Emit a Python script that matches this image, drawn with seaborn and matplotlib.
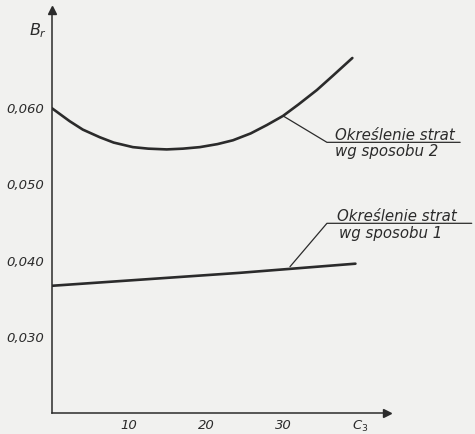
import numpy as np
import pandas as pd
import matplotlib
matplotlib.use("Agg")
import matplotlib.pyplot as plt
import seaborn as sns

# values (C3 on x, B_r on y)
c_sposob2 = [0, 2.3, 4.0, 6.2, 8.0, 10.5, 12.5, 14.9, 17.0, 19.2, 21.5,
             23.5, 25.8, 27.9, 30.0, 32.0, 34.4, 36.5, 39.0]
b_sposob2 = [0.0600, 0.0583, 0.0572, 0.0562, 0.0555, 0.0549, 0.0547, 0.0546, 0.0547, 0.0549, 0.0553,
             0.0558, 0.0567, 0.0578, 0.0590, 0.0605, 0.0624, 0.0643, 0.0666]

c_sposob1 = [0, 24.4, 39.4]
b_sposob1 = [0.0367, 0.0384, 0.0396]

x_ticks = [10, 20, 30, 40]
x_tick_labels = ["10", "20", "30", "$C_3$"]
y_ticks = [0.030, 0.040, 0.050, 0.060]
y_tick_labels = ["0,030", "0,040", "0,050", "0,060"]

df2 = pd.DataFrame({"c": c_sposob2, "b": b_sposob2})
df1 = pd.DataFrame({"c": c_sposob1, "b": b_sposob1})

sns.set_style("white")
plt.rcParams["font.family"] = ["DejaVu Sans"]
plt.rcParams["mathtext.fontset"] = "dejavusans"

paper = "#f1f1ef"
ink = "#2b2b2b"

fig = plt.figure(figsize=(4.75, 4.34), dpi=100, facecolor=paper)
ax = fig.add_axes([52 / 475, 21 / 434, (387 - 52) / 475, (413 - 10) / 434])
ax.set_facecolor(paper)

sns.lineplot(data=df2, x="c", y="b", ax=ax, color=ink, linewidth=1.9, sort=False)
sns.lineplot(data=df1, x="c", y="b", ax=ax, color=ink, linewidth=1.9, sort=False)

ax.set_xlim(0, 43.5)
ax.set_ylim(0.020, 0.0729)

for side in ["top", "right"]:
    ax.spines[side].set_visible(False)
for side in ["left", "bottom"]:
    ax.spines[side].set_color(ink)
    ax.spines[side].set_linewidth(1.1)

# arrow heads on the axes
ax.plot(1, 0, ">", color=ink, markersize=6, transform=ax.transAxes, clip_on=False)
ax.plot(0, 1, "^", color=ink, markersize=6, transform=ax.transAxes, clip_on=False)

ax.set_xticks(x_ticks)
ax.set_xticklabels(x_tick_labels, fontsize=9.5, fontstyle="italic", color=ink)
ax.set_yticks(y_ticks)
ax.set_yticklabels(y_tick_labels, fontsize=9.5, fontstyle="italic", color=ink)
ax.tick_params(axis="x", direction="in", length=4, width=1, colors=ink, pad=4)
ax.tick_params(axis="y", direction="out", length=5, width=1, colors=ink, pad=1)
ax.set_xlabel("")
ax.set_ylabel("")

ax.text(-0.015, 0.95, "$B_r$", transform=ax.transAxes, fontsize=11.5,
        color=ink, ha="right", va="center")

# leader lines with labels
lab_kw = dict(fontsize=10.8, fontstyle="italic", color=ink, ha="left", va="center")

# sposob 2
ax.plot([30.0, 35.7, 53.0], [0.0590, 0.05553, 0.05553], color=ink, linewidth=0.9, clip_on=False)
ax.text(36.7, 0.0564, "Określenie strat", **lab_kw)
ax.text(36.7, 0.0543, "wg sposobu 2", **lab_kw)

# sposob 1
ax.plot([30.9, 35.7, 54.5], [0.0392, 0.0449, 0.0449], color=ink, linewidth=0.9, clip_on=False)
ax.text(37.0, 0.0458, "Określenie strat", **lab_kw)
ax.text(37.3, 0.0435, "wg sposobu 1", **lab_kw)

fig.savefig("out.png", dpi=100, facecolor=paper)
